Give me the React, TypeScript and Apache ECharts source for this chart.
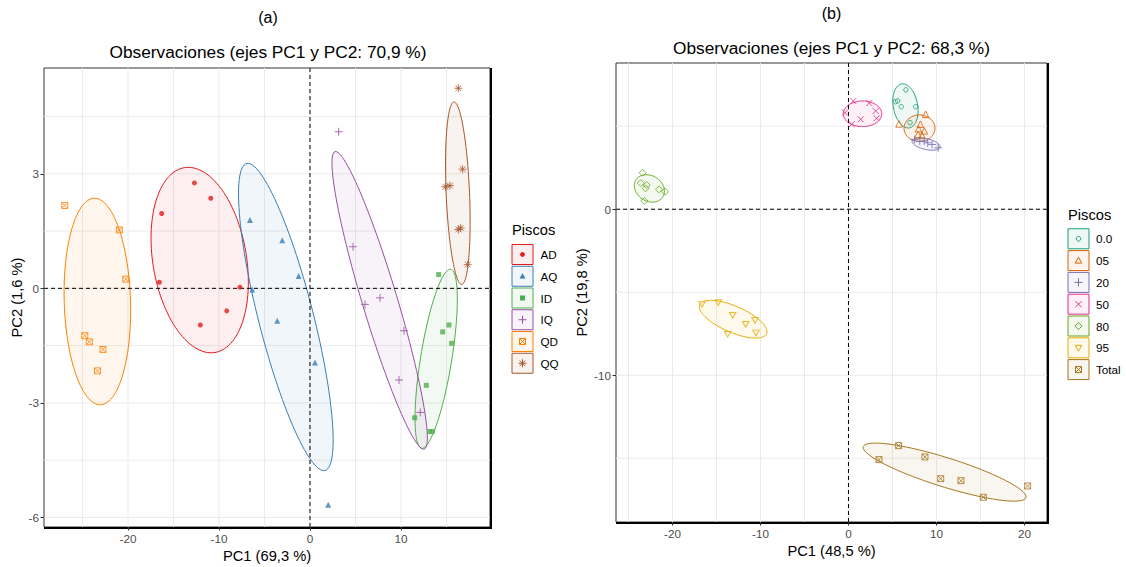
import React, { useEffect, useRef } from "react";
import * as echarts from "echarts";

const FONT = "'Liberation Sans', Arial, Helvetica, sans-serif";

// ---------------- Panel (a) data ----------------
const groupsA = ["AD", "AQ", "ID", "IQ", "QD", "QQ"];
const colorsA = ["#E41A1C", "#377EB8", "#4DAF4A", "#984EA3", "#FF7F00", "#A65628"];
const shapesA = ["circleFilled", "triangleFilled", "squareFilled", "plus", "squareCross", "asterisk"];

const pointsAD = [[-12.7, 2.76], [-10.9, 2.36], [-16.3, 1.96], [-16.55, 0.16], [-7.7, 0.03], [-9.15, -0.59], [-12.05, -0.96]];
const pointsAQ = [[-6.6, 1.79], [-3.05, 1.26], [-1.25, 0.32], [-6.35, -0.03], [-3.6, -0.85], [0.55, -1.94], [2.0, -5.67]];
const pointsID = [[14.14, 0.36], [15.27, -0.96], [14.58, -1.14], [15.57, -1.44], [12.78, -2.54], [11.5, -3.39], [13.15, -3.75], [13.45, -3.75]];
const pointsIQ = [[3.15, 4.1], [4.73, 1.09], [6.04, -0.42], [7.69, -0.25], [10.33, -1.11], [9.78, -2.4], [12.12, -3.25]];
const pointsQD = [[-26.95, 2.17], [-20.95, 1.53], [-20.25, 0.24], [-24.75, -1.24], [-24.25, -1.4], [-22.75, -1.6], [-23.35, -2.16]];
const pointsQQ = [[16.3, 5.24], [16.77, 3.12], [14.87, 2.66], [15.38, 2.69], [16.3, 1.54], [16.56, 1.58], [17.33, 0.62]];
const pointsA = [pointsAD, pointsAQ, pointsID, pointsIQ, pointsQD, pointsQQ];

// ellipse: [tip1 x, tip1 y, tip2 x, tip2 y, minor/major ratio]
const ellipseAD = [-13.8, 3.16, -10.44, -1.68, 0.5];
const ellipseAQ = [-6.96, 3.27, 1.65, -4.77, 0.173];
const ellipseID = [15.46, 0.5, 12.27, -4.19, 0.172];
const ellipseIQ = [2.75, 3.58, 12.56, -4.21, 0.113];
const ellipseQD = [-23.71, 2.36, -23.02, -3.05, 0.321];
const ellipseQQ = [15.82, 4.88, 16.67, 0.1, 0.128];
const ellipsesA = [ellipseAD, ellipseAQ, ellipseID, ellipseIQ, ellipseQD, ellipseQQ];

const xTicksA = [-20, -10, 0, 10];
const xMinorA = [-25, -15, -5, 5, 15];
const yTicksA = [-6, -3, 0, 3];
const yMinorA = [-4.5, -1.5, 1.5, 4.5];
const xRangeA = [-29.23, 19.78];
const yRangeA = [-6.25, 5.77];

// ---------------- Panel (b) data ----------------
const groupsB = ["0.0", "05", "20", "50", "80", "95", "Total"];
const colorsB = ["#1B9E77", "#D95F02", "#7570B3", "#E7298A", "#66A61E", "#E6AB02", "#A6761D"];
const shapesB = ["circleOpen", "triangleOpen", "plus", "cross", "diamondOpen", "downTriOpen", "squareCross"];

const points00 = [[6.53, 7.19], [5.59, 6.52], [5.32, 6.48], [6.0, 6.18], [7.64, 6.18], [6.99, 5.22]];
const points05 = [[8.77, 5.72], [5.74, 5.14], [8.17, 5.12], [7.95, 4.85], [8.62, 4.72], [7.9, 4.5], [8.35, 4.45]];
const points20 = [[7.5, 4.2], [8.1, 4.1], [8.6, 4.1], [9.0, 4.0], [9.5, 3.9], [10.2, 3.7]];
const points50 = [[0.55, 6.52], [2.36, 6.4], [3.09, 5.92], [1.39, 5.42], [3.2, 5.48], [-0.4, 5.82], [0.36, 5.12]];
const points80 = [[-23.39, 2.2], [-23.6, 1.57], [-22.93, 1.46], [-23.05, 1.26], [-21.53, 1.2], [-20.85, 1.06], [-23.2, 0.5]];
const points95 = [[-16.65, -5.72], [-14.8, -5.62], [-13.16, -6.39], [-11.68, -6.93], [-10.63, -6.69], [-13.73, -7.53], [-10.51, -7.45]];
const pointsTotal = [[5.7, -14.24], [3.47, -15.08], [8.69, -14.92], [10.48, -16.23], [12.78, -16.35], [15.32, -17.35], [20.36, -16.67]];
const pointsB = [points00, points05, points20, points50, points80, points95, pointsTotal];

const ellipse00 = [6.02, 7.55, 6.93, 4.9, 0.545];
const ellipse05 = [6.31, 4.88, 9.83, 4.88, 0.86];
const ellipse20 = [7.23, 4.12, 10.4, 3.74, 0.38];
const ellipse50 = [-0.59, 5.75, 3.78, 5.75, 0.667];
const ellipse80 = [-24.15, 1.77, -21.1, 0.74, 0.8];
const ellipse95 = [-16.9, -5.75, -9.3, -7.5, 0.36];
const ellipseTotal = [1.68, -14.3, 20.17, -17.37, 0.171];
const ellipsesB = [ellipse00, ellipse05, ellipse20, ellipse50, ellipse80, ellipse95, ellipseTotal];

const xTicksB = [-20, -10, 0, 10, 20];
const xMinorB = [-25, -15, -5, 5, 15];
const yTicksB = [-10, 0];
const yMinorB = [-15, -5, 5];
const xRangeB = [-26.42, 22.56];
const yRangeB = [-18.84, 8.81];

// ---------------- layout ----------------
const GA = { left: 44, top: 68, width: 446, height: 459 };
const GB = { left: 616, top: 63, width: 431, height: 459 };

const SYM: Record<string, { symbol: string; size: number | number[]; filled: boolean }> = {
  circleFilled: { symbol: "circle", size: 5, filled: true },
  triangleFilled: { symbol: "triangle", size: 6, filled: true },
  squareFilled: { symbol: "rect", size: 5, filled: true },
  plus: { symbol: "path://M5,0L5,10M0,5L10,5", size: 8, filled: false },
  squareCross: { symbol: "path://M0,0L10,0L10,10L0,10ZM0,0L10,10M10,0L0,10", size: 6, filled: false },
  asterisk: { symbol: "path://M5,0L5,10M0,5L10,5M1.46,1.46L8.54,8.54M8.54,1.46L1.46,8.54", size: 8, filled: false },
  circleOpen: { symbol: "circle", size: 4.5, filled: false },
  triangleOpen: { symbol: "triangle", size: 6.5, filled: false },
  cross: { symbol: "path://M0,0L10,10M10,0L0,10", size: 6, filled: false },
  diamondOpen: { symbol: "diamond", size: 7, filled: false },
  downTriOpen: { symbol: "path://M0,0L10,0L5,8.66Z", size: [6.5, 5.6], filled: false },
};

function rgba(hex: string, a: number) {
  const n = parseInt(hex.slice(1), 16);
  return `rgba(${(n >> 16) & 255},${(n >> 8) & 255},${n & 255},${a})`;
}

function legendSymbol(kind: string, cx: number, cy: number, c: string): any[] {
  const ln = (x1: number, y1: number, x2: number, y2: number) => ({
    type: "line",
    shape: { x1, y1, x2, y2 },
    style: { stroke: c, lineWidth: 1 },
  });
  switch (kind) {
    case "circleFilled":
      return [{ type: "circle", shape: { cx, cy, r: 2.4 }, style: { fill: c } }];
    case "triangleFilled":
      return [{ type: "polygon", shape: { points: [[cx, cy - 3], [cx + 3, cy + 2.2], [cx - 3, cy + 2.2]] }, style: { fill: c } }];
    case "squareFilled":
      return [{ type: "rect", shape: { x: cx - 2.5, y: cy - 2.5, width: 5, height: 5 }, style: { fill: c } }];
    case "plus":
      return [ln(cx - 4, cy, cx + 4, cy), ln(cx, cy - 4, cx, cy + 4)];
    case "cross":
      return [ln(cx - 3, cy - 3, cx + 3, cy + 3), ln(cx + 3, cy - 3, cx - 3, cy + 3)];
    case "asterisk":
      return [
        ln(cx - 4, cy, cx + 4, cy),
        ln(cx, cy - 4, cx, cy + 4),
        ln(cx - 2.8, cy - 2.8, cx + 2.8, cy + 2.8),
        ln(cx + 2.8, cy - 2.8, cx - 2.8, cy + 2.8),
      ];
    case "squareCross":
      return [
        { type: "rect", shape: { x: cx - 3, y: cy - 3, width: 6, height: 6 }, style: { fill: "none", stroke: c, lineWidth: 1 } },
        ln(cx - 3, cy - 3, cx + 3, cy + 3),
        ln(cx + 3, cy - 3, cx - 3, cy + 3),
      ];
    case "circleOpen":
      return [{ type: "circle", shape: { cx, cy, r: 2.3 }, style: { fill: "none", stroke: c, lineWidth: 1 } }];
    case "triangleOpen":
      return [{ type: "polygon", shape: { points: [[cx, cy - 3.3], [cx + 3.3, cy + 2.5], [cx - 3.3, cy + 2.5]] }, style: { fill: "none", stroke: c, lineWidth: 1 } }];
    case "diamondOpen":
      return [{ type: "polygon", shape: { points: [[cx, cy - 3.6], [cx + 3.6, cy], [cx, cy + 3.6], [cx - 3.6, cy]] }, style: { fill: "none", stroke: c, lineWidth: 1 } }];
    case "downTriOpen":
      return [{ type: "polygon", shape: { points: [[cx - 3.3, cy - 2.5], [cx + 3.3, cy - 2.5], [cx, cy + 3.3]] }, style: { fill: "none", stroke: c, lineWidth: 1 } }];
  }
  return [];
}

function buildLegend(groups: string[], colors: string[], shapes: string[], x: number, top0: number, step: number, titleX: number, titleY: number, labelX: number): any[] {
  const els: any[] = [
    {
      type: "text",
      x: titleX,
      y: titleY,
      style: { text: "Piscos", fontSize: 14.7, fill: "#000", fontFamily: FONT, align: "left", verticalAlign: "middle" },
    },
  ];
  groups.forEach((g, i) => {
    const y = top0 + i * step;
    const c = colors[i];
    els.push({
      type: "rect",
      shape: { x: x + 0.5, y: y + 0.5, width: 21, height: 20 },
      style: { fill: rgba(c, 0.07), stroke: c, lineWidth: 1 },
    });
    legendSymbol(shapes[i], x + 11, y + 10.5, c).forEach((e) => els.push(e));
    els.push({
      type: "text",
      x: labelX,
      y: y + 10.5,
      style: { text: g, fontSize: 11.7, fill: "#000", fontFamily: FONT, align: "left", verticalAlign: "middle" },
    });
  });
  return els;
}

function ellipseRender(color: string) {
  return (params: any, api: any) => {
    const p1 = api.coord([api.value(0), api.value(1)]);
    const p2 = api.coord([api.value(2), api.value(3)]);
    const r = api.value(4);
    const cx = (p1[0] + p2[0]) / 2;
    const cy = (p1[1] + p2[1]) / 2;
    const ax = (p2[0] - p1[0]) / 2;
    const ay = (p2[1] - p1[1]) / 2;
    const bx = -ay * r;
    const by = ax * r;
    const pts: number[][] = [];
    const N = 120;
    for (let i = 0; i < N; i++) {
      const t = (i / N) * Math.PI * 2;
      pts.push([cx + ax * Math.cos(t) + bx * Math.sin(t), cy + ay * Math.cos(t) + by * Math.sin(t)]);
    }
    return {
      type: "polygon",
      shape: { points: pts },
      style: { fill: rgba(color, 0.07), stroke: color, lineWidth: 1 },
    };
  };
}

function lineRender(params: any, api: any) {
  const cs = params.coordSys;
  const v = api.value(0);
  const o = api.value(1);
  const k = api.value(2);
  let shape;
  if (o === 0) {
    const x = api.coord([v, 0])[0];
    shape = { x1: x, y1: cs.y, x2: x, y2: cs.y + cs.height };
  } else {
    const y = api.coord([0, v])[1];
    shape = { x1: cs.x, y1: y, x2: cs.x + cs.width, y2: y };
  }
  return {
    type: "line",
    shape,
    style: k ? { stroke: "#000", lineWidth: 1, lineDash: [4, 3] } : { stroke: "#EBEBEB", lineWidth: 1 },
  };
}

function panelSeries(idx: number, groups: string[], colors: string[], shapes: string[], points: number[][][], ellipses: number[][], xt: number[], xm: number[], yt: number[], ym: number[]) {
  const gridData: number[][] = [];
  xt.concat(xm).forEach((v) => gridData.push([v, 0, 0]));
  yt.concat(ym).forEach((v) => gridData.push([v, 1, 0]));
  const zeroData = [[0, 0, 1], [0, 1, 1]];
  const out: any[] = [
    {
      type: "custom",
      xAxisIndex: idx,
      yAxisIndex: idx,
      renderItem: lineRender,
      data: gridData,
      encode: { x: -1, y: -1 },
      silent: true,
      z: 1,
    },
  ];
  groups.forEach((g, i) => {
    out.push({
      type: "custom",
      name: g + " ellipse",
      xAxisIndex: idx,
      yAxisIndex: idx,
      renderItem: ellipseRender(colors[i]),
      data: [ellipses[i]],
      encode: { x: [0, 2], y: [1, 3] },
      silent: true,
      z: 2,
    });
  });
  out.push({
    type: "custom",
    xAxisIndex: idx,
    yAxisIndex: idx,
    renderItem: lineRender,
    data: zeroData,
    encode: { x: -1, y: -1 },
    silent: true,
    z: 3,
  });
  groups.forEach((g, i) => {
    const s = SYM[shapes[i]];
    out.push({
      type: "scatter",
      name: g,
      xAxisIndex: idx,
      yAxisIndex: idx,
      data: points[i],
      symbol: s.symbol,
      symbolSize: s.size,
      itemStyle: s.filled
        ? { color: colors[i] }
        : { color: "transparent", borderColor: colors[i], borderWidth: 1 },
      z: 4,
    });
  });
  return out;
}

function axisX(idx: number, range: number[], ticks: number[], name: string, gap: number) {
  return {
    type: "value",
    gridIndex: idx,
    min: range[0],
    max: range[1],
    axisLine: { show: false, onZero: false },
    axisTick: { show: true, length: 3.5, lineStyle: { color: "#333" }, customValues: ticks },
    axisLabel: { customValues: ticks, color: "#4D4D4D", fontSize: 11.7, fontFamily: FONT, margin: 5 },
    splitLine: { show: false },
    name,
    nameLocation: "middle",
    nameGap: gap,
    nameTextStyle: { fontSize: 14.7, color: "#000", fontFamily: FONT },
  };
}

function axisY(idx: number, range: number[], ticks: number[], name: string, gap: number) {
  return {
    type: "value",
    gridIndex: idx,
    min: range[0],
    max: range[1],
    axisLine: { show: false, onZero: false },
    axisTick: { show: true, length: 3.5, lineStyle: { color: "#333" }, customValues: ticks },
    axisLabel: { customValues: ticks, color: "#4D4D4D", fontSize: 11.7, fontFamily: FONT, margin: 5 },
    splitLine: { show: false },
    name,
    nameLocation: "middle",
    nameGap: gap,
    nameTextStyle: { fontSize: 14.7, color: "#000", fontFamily: FONT },
  };
}

function frameLines(g: { left: number; top: number; width: number; height: number }) {
  const r = g.left + g.width;
  const b = g.top + g.height;
  return [
    { type: "line", shape: { x1: r + 1, y1: g.top, x2: r + 1, y2: b + 2 }, style: { stroke: "#000", lineWidth: 2 } },
    { type: "line", shape: { x1: g.left, y1: b + 1, x2: r + 2, y2: b + 1 }, style: { stroke: "#000", lineWidth: 2 } },
  ];
}

function titleText(text: string, x: number, y: number, size: number) {
  return {
    type: "text",
    x,
    y,
    style: { text, fontSize: size, fill: "#000", fontFamily: FONT, align: "center", verticalAlign: "middle" },
  };
}

export default function App() {
  const ref = useRef<HTMLDivElement>(null);
  useEffect(() => {
    document.body.style.margin = "0";
    if (!ref.current) return;
    const chart = echarts.init(ref.current, undefined, { renderer: "svg" });
    const series = [
      ...panelSeries(0, groupsA, colorsA, shapesA, pointsA, ellipsesA, xTicksA, xMinorA, yTicksA, yMinorA),
      ...panelSeries(1, groupsB, colorsB, shapesB, pointsB, ellipsesB, xTicksB, xMinorB, yTicksB, yMinorB),
    ];
    const graphic = [
      titleText("(a)", GA.left + GA.width / 2 + 1, 17, 16),
      titleText("Observaciones (ejes PC1 y PC2: 70,9 %)", GA.left + GA.width / 2 + 1, 52, 17.3),
      titleText("(b)", GB.left + GB.width / 2, 13.5, 16),
      titleText("Observaciones (ejes PC1 y PC2: 68,3 %)", GB.left + GB.width / 2, 48.3, 17.3),
      ...frameLines(GA),
      ...frameLines(GB),
      ...buildLegend(groupsA, colorsA, shapesA, 511.5, 244, 21.75, 512, 230, 540.5),
      ...buildLegend(groupsB, colorsB, shapesB, 1067.5, 228.3, 21.8, 1068, 215, 1096),
    ];
    chart.setOption({
      animation: false,
      backgroundColor: "#fff",
      grid: [
        { ...GA, show: true, borderColor: "#333", borderWidth: 1, backgroundColor: "transparent", outerBoundsMode: "none", containLabel: false },
        { ...GB, show: true, borderColor: "#333", borderWidth: 1, backgroundColor: "transparent", outerBoundsMode: "none", containLabel: false },
      ],
      xAxis: [axisX(0, xRangeA, xTicksA, "PC1 (69,3 %)", 20), axisX(1, xRangeB, xTicksB, "PC1 (48,5 %)", 20)],
      yAxis: [axisY(0, yRangeA, yTicksA, "PC2 (1,6 %)", 19), axisY(1, yRangeB, yTicksB, "PC2 (19,8 %)", 27)],
      series,
      graphic,
    });
    return () => chart.dispose();
  }, []);
  return <div ref={ref} style={{ width: 1126, height: 567 }} />;
}
